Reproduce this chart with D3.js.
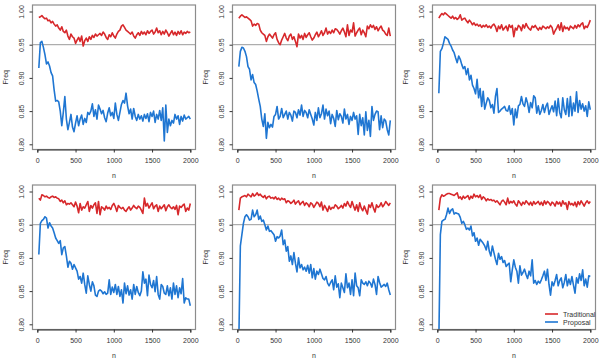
<!DOCTYPE html>
<html>
<head>
<meta charset="utf-8">
<script src="https://cdn.jsdelivr.net/npm/d3@7"></script>
<style>
  body { margin: 0; background: #fff; }
  svg { display: block; font-family: "Liberation Sans", Arial, sans-serif; }
  .axis text { font-size: 7px; fill: #333; }
  .axis path, .axis line { stroke: #333; }
</style>
</head>
<body>
<div id="chart"></div>
<script>
// sample sizes (x grid) and tick labels
const nValues = d3.range(20, 2001, 20);
const xTicks = [0, 500, 1000, 1500, 2000];
const yTicks = [0.80, 0.85, 0.90, 0.95, 1.00];
const refLine = 0.95;
const seriesNames = ["Traditional", "Proposal"];

// panel 1
const trad1 = [.991,.992,.994,.991,.989,.990,.986,.987,.983,.985,.981,.978,.980,.975,.972,.977,.970,.968,.972,.963,
  .958,.966,.962,.960,.952,.957,.961,.955,.963,.948,.956,.960,.955,.962,.958,.964,.961,.966,.963,.965,
  .967,.964,.969,.966,.961,.958,.965,.962,.968,.963,.960,.966,.970,.972,.978,.980,.976,.972,.970,.968,
  .966,.969,.963,.960,.965,.968,.964,.970,.966,.969,.965,.971,.967,.970,.972,.966,.969,.975,.968,.971,
  .965,.970,.966,.972,.968,.963,.967,.971,.965,.969,.964,.970,.966,.971,.965,.969,.967,.970,.968,.969];
const prop1 = [.915,.953,.955,.946,.935,.921,.924,.918,.908,.903,.882,.865,.866,.864,.850,.828,.848,.872,.838,.822,
  .833,.845,.826,.819,.832,.843,.828,.838,.844,.830,.839,.833,.848,.845,.850,.861,.842,.852,.838,.859,
  .853,.846,.851,.840,.834,.847,.855,.843,.848,.839,.862,.845,.836,.848,.860,.866,.862,.877,.858,.846,
  .853,.838,.854,.842,.836,.845,.838,.843,.835,.845,.839,.846,.834,.848,.842,.850,.833,.845,.838,.851,
  .836,.855,.805,.859,.818,.838,.828,.836,.832,.845,.838,.843,.830,.842,.835,.844,.838,.840,.842,.838];

// panel 2
const trad2 = [.990,.993,.995,.993,.991,.992,.990,.988,.986,.978,.981,.979,.982,.981,.972,.968,.966,.964,.955,.962,
  .966,.963,.960,.965,.968,.958,.953,.950,.957,.962,.967,.960,.956,.963,.966,.958,.962,.955,.947,.966,
  .960,.964,.958,.967,.961,.965,.968,.962,.957,.960,.965,.969,.962,.966,.971,.964,.968,.975,.966,.970,
  .967,.972,.968,.974,.973,.970,.966,.971,.975,.969,.962,.980,.964,.972,.969,.983,.963,.968,.972,.975,
  .965,.972,.968,.962,.978,.974,.980,.976,.979,.973,.977,.971,.975,.978,.972,.970,.966,.964,.975,.963];
const prop2 = [.917,.940,.946,.945,.940,.932,.917,.913,.897,.905,.893,.890,.880,.868,.857,.838,.827,.846,.809,.833,
  .825,.830,.826,.842,.845,.857,.838,.842,.854,.840,.845,.850,.838,.848,.844,.835,.850,.848,.840,.852,
  .844,.859,.842,.851,.848,.840,.852,.845,.838,.829,.848,.836,.855,.840,.846,.859,.838,.853,.843,.850,
  .831,.845,.839,.827,.851,.837,.846,.842,.832,.853,.838,.845,.830,.842,.836,.848,.838,.843,.815,.845,
  .828,.840,.814,.849,.821,.836,.812,.857,.836,.845,.850,.849,.822,.843,.825,.838,.835,.822,.814,.836];

// panel 3
const trad3 = [.990,.994,.997,.995,.998,.996,.994,.992,.990,.993,.989,.991,.988,.990,.995,.987,.989,.990,.986,.983,
  .987,.984,.980,.983,.979,.981,.978,.980,.976,.979,.977,.980,.976,.978,.975,.979,.981,.977,.970,.978,
  .974,.980,.972,.975,.978,.971,.980,.976,.979,.962,.975,.972,.979,.977,.971,.980,.975,.982,.977,.974,
  .972,.978,.976,.979,.975,.972,.976,.973,.978,.976,.974,.977,.975,.979,.976,.966,.971,.975,.980,.972,
  .983,.970,.978,.974,.976,.972,.978,.976,.974,.979,.975,.980,.977,.981,.983,.974,.978,.976,.981,.987];
const prop3 = [.877,.940,.944,.952,.962,.960,.958,.952,.948,.942,.938,.930,.923,.933,.928,.920,.914,.917,.905,.914,
  .897,.904,.889,.884,.876,.898,.870,.884,.857,.880,.853,.862,.870,.866,.855,.860,.847,.872,.884,.848,
  .850,.853,.855,.857,.851,.850,.858,.845,.854,.829,.853,.840,.858,.860,.872,.861,.857,.870,.862,.848,
  .863,.855,.873,.870,.847,.858,.845,.851,.860,.848,.857,.862,.845,.852,.858,.849,.865,.843,.869,.848,
  .840,.870,.852,.845,.869,.842,.872,.843,.862,.850,.879,.848,.866,.853,.861,.850,.858,.842,.864,.852];

// panel 4
const trad4 = [.990,.987,.995,.994,.992,.993,.991,.990,.992,.993,.991,.992,.990,.989,.985,.987,.983,.986,.980,.982,
  .981,.983,.980,.977,.984,.978,.968,.982,.972,.977,.975,.980,.985,.970,.979,.975,.980,.983,.967,.985,
  .965,.977,.975,.972,.978,.974,.976,.973,.979,.982,.977,.970,.979,.976,.974,.976,.972,.970,.974,.977,
  .972,.975,.979,.976,.974,.978,.976,.972,.967,.990,.978,.982,.975,.979,.983,.974,.978,.980,.970,.978,
  .974,.977,.980,.971,.977,.980,.976,.974,.977,.973,.979,.965,.978,.976,.979,.981,.970,.975,.972,.982];
const prop4 = [.905,.952,.956,.958,.962,.960,.945,.953,.948,.945,.938,.930,.926,.922,.926,.905,.915,.917,.903,.886,
  .895,.892,.883,.890,.885,.880,.868,.872,.862,.877,.860,.847,.873,.860,.850,.864,.858,.844,.842,.850,
  .852,.850,.846,.849,.845,.847,.867,.845,.856,.848,.860,.845,.857,.842,.852,.832,.862,.846,.858,.844,
  .852,.838,.860,.845,.857,.848,.843,.850,.879,.862,.868,.843,.874,.860,.855,.866,.849,.872,.845,.838,
  .860,.857,.847,.845,.858,.843,.855,.838,.862,.845,.858,.840,.855,.846,.869,.832,.840,.838,.838,.828];

// panel 5
const trad5 = [.972,.990,.992,.993,.994,.992,.996,.994,.992,.997,.993,.995,.998,.994,.996,.993,.991,.994,.989,.992,
  .993,.990,.991,.989,.992,.988,.990,.987,.990,.988,.989,.983,.986,.985,.982,.984,.987,.981,.984,.986,
  .980,.983,.985,.979,.983,.981,.977,.983,.981,.976,.980,.984,.982,.977,.984,.972,.979,.975,.970,.978,
  .973,.976,.975,.980,.978,.974,.976,.979,.975,.982,.978,.985,.980,.976,.985,.978,.972,.980,.970,.983,
  .975,.971,.978,.972,.966,.980,.976,.983,.975,.969,.980,.976,.978,.983,.977,.980,.985,.982,.979,.983];
const prop5 = [.775,.918,.935,.952,.962,.965,.962,.957,.958,.972,.962,.965,.972,.958,.963,.955,.957,.950,.942,.948,
  .940,.941,.938,.935,.925,.932,.930,.933,.942,.920,.927,.910,.917,.895,.903,.890,.908,.892,.879,.900,
  .885,.890,.882,.886,.880,.889,.877,.890,.870,.884,.868,.880,.875,.883,.876,.869,.867,.872,.862,.858,
  .863,.867,.852,.873,.856,.861,.840,.862,.855,.848,.876,.855,.862,.845,.867,.843,.877,.858,.855,.843,
  .867,.862,.860,.864,.858,.865,.862,.856,.868,.860,.845,.872,.863,.856,.858,.860,.857,.862,.852,.844];

// panel 6
const trad6 = [.972,.990,.995,.993,.994,.996,.997,.997,.996,.995,.994,.996,.998,.990,.992,.988,.993,.990,.992,.994,
  .988,.993,.990,.996,.992,.994,.991,.995,.988,.992,.990,.986,.989,.987,.988,.986,.987,.984,.986,.983,
  .980,.985,.987,.984,.980,.990,.982,.985,.983,.986,.981,.978,.986,.983,.979,.984,.981,.986,.983,.980,
  .984,.979,.985,.981,.983,.985,.980,.984,.979,.986,.981,.985,.983,.979,.984,.982,.978,.985,.981,.984,
  .978,.986,.981,.983,.973,.985,.980,.982,.979,.984,.977,.985,.980,.986,.982,.978,.983,.986,.982,.985];
const prop6 = [.775,.935,.955,.957,.958,.965,.975,.967,.972,.974,.966,.968,.967,.966,.961,.952,.955,.950,.943,.945,
  .942,.948,.933,.938,.925,.930,.919,.928,.925,.922,.918,.912,.925,.910,.903,.918,.908,.898,.890,.907,
  .898,.902,.893,.896,.887,.890,.892,.864,.882,.897,.886,.880,.862,.888,.874,.878,.883,.875,.869,.880,
  .873,.897,.862,.866,.860,.865,.862,.867,.873,.880,.866,.883,.860,.844,.864,.858,.866,.875,.858,.866,
  .870,.855,.863,.875,.858,.868,.860,.872,.859,.847,.870,.862,.876,.866,.882,.858,.868,.856,.873,.872];

const panels = [[trad1, prop1], [trad2, prop2], [trad3, prop3], [trad4, prop4], [trad5, prop5], [trad6, prop6]];
const colors = ["#d7282b", "#1f76d2"];

const W = 600, H = 360, pw = 200, ph = 180;
const box = { left: 32.5, right: 195.5, top: 5, bottom: 149.5 };

const svg = d3.select("#chart").append("svg")
  .attr("width", W)
  .attr("height", H);

const x = d3.scaleLinear().domain([0, 2000]).range([37.3, 190.3]);
const y = d3.scaleLinear().domain([0.8, 1.0]).range([144.3, 11.5]);

const line = d3.line()
  .x((d, i) => x(nValues[i]))
  .y(d => y(d));

panels.forEach((series, p) => {
  const col = p % 3, row = Math.floor(p / 3);
  const g = svg.append("g")
    .attr("transform", `translate(${col * pw}, ${row * ph})`);

  g.append("clipPath")
    .attr("id", `clip${p}`)
    .append("rect")
    .attr("x", box.left)
    .attr("y", box.top)
    .attr("width", box.right - box.left)
    .attr("height", box.bottom - box.top);

  // reference line at 0.95
  g.append("line")
    .attr("x1", box.left).attr("x2", box.right)
    .attr("y1", y(refLine)).attr("y2", y(refLine))
    .attr("stroke", "#9a9a9a")
    .attr("stroke-width", 1);

  series.forEach((vals, s) => {
    g.append("path")
      .datum(vals)
      .attr("clip-path", `url(#clip${p})`)
      .attr("fill", "none")
      .attr("stroke", colors[s])
      .attr("stroke-width", 1.6)
      .attr("stroke-linejoin", "round")
      .attr("d", line);
  });

  // frame
  g.append("rect")
    .attr("x", box.left)
    .attr("y", box.top)
    .attr("width", box.right - box.left)
    .attr("height", box.bottom - box.top)
    .attr("fill", "none")
    .attr("stroke", "#8c8c8c")
    .attr("stroke-width", 1.2);

  const xAxis = g.append("g")
    .attr("class", "axis")
    .attr("transform", `translate(0, ${box.bottom})`)
    .call(d3.axisBottom(x).tickValues(xTicks).tickSize(3).tickPadding(6).tickFormat(d3.format("d")));
  xAxis.select(".domain").attr("stroke", "#8c8c8c");

  const yAxis = g.append("g")
    .attr("class", "axis")
    .attr("transform", `translate(${box.left}, 0)`)
    .call(d3.axisLeft(y).tickValues(yTicks).tickSize(3).tickFormat(d3.format(".2f")));
  yAxis.select(".domain").remove();
  yAxis.selectAll("text")
    .attr("transform", "rotate(-90)")
    .attr("x", 0)
    .attr("y", -8.5)
    .attr("dy", 0)
    .style("text-anchor", "middle");

  g.append("text")
    .attr("x", (box.left + box.right) / 2)
    .attr("y", 178)
    .attr("text-anchor", "middle")
    .attr("font-size", 7)
    .attr("fill", "#333")
    .text("n");

  g.append("text")
    .attr("transform", `translate(8, ${(box.top + box.bottom) / 2}) rotate(-90)`)
    .attr("text-anchor", "middle")
    .attr("font-size", 7)
    .attr("fill", "#333")
    .text("Freq");

  // legend in the last panel
  if (p === panels.length - 1) {
    seriesNames.forEach((name, s) => {
      const ly = 134 + s * 8;
      g.append("line")
        .attr("x1", 145).attr("x2", 158)
        .attr("y1", ly).attr("y2", ly)
        .attr("stroke", colors[s])
        .attr("stroke-width", 1.6);
      g.append("text")
        .attr("x", 163)
        .attr("y", ly + 2.5)
        .attr("font-size", 7)
        .attr("fill", "#333")
        .text(name);
    });
  }
});
</script>
</body>
</html>
